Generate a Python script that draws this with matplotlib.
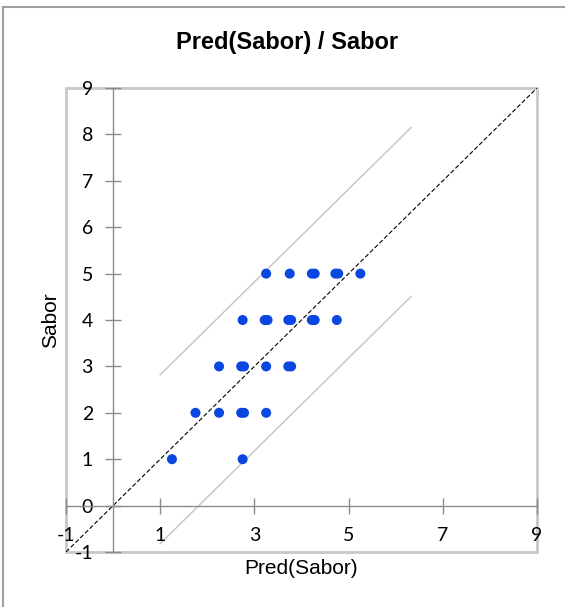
import numpy as np
import matplotlib
matplotlib.use('Agg')
import matplotlib.pyplot as plt
from matplotlib.patches import Rectangle
from matplotlib.lines import Line2D

# predicted vs observed taste scores
pred = [3.25, 3.75, 4.22, 4.28, 4.72, 4.78, 5.25,
        2.75, 3.22, 3.28, 3.72, 3.78, 4.22, 4.28, 4.75,
        2.25, 2.72, 2.78, 3.25, 3.72, 3.78,
        1.75, 2.25, 2.72, 2.78, 3.25,
        1.25, 2.75]
sabor = [5, 5, 5, 5, 5, 5, 5,
         4, 4, 4, 4, 4, 4, 4, 4,
         3, 3, 3, 3, 3, 3,
         2, 2, 2, 2, 2,
         1, 1]

# confidence band around the identity line
band_x = [1.0, 6.33]
band_offset = 1.82

xticks = [-1, 1, 3, 5, 7, 9]
yticks = list(range(-1, 10))

fig = plt.figure(figsize=(5.65, 6.07), dpi=100)
ax = fig.add_axes([0.1168, 0.0906, 0.8336, 0.7644])

ax.plot([-1, 9], [-1, 9], color='black', lw=0.8, ls=(0, (4, 2)), zorder=2)
bx = np.array(band_x)
ax.plot(bx, bx + band_offset, color='#c8c8c8', lw=1.1, zorder=1)
ax.plot(bx, bx - band_offset, color='#c8c8c8', lw=1.1, zorder=1)
ax.scatter(pred, sabor, s=52, color='#0a46e0', edgecolors='none', zorder=3)

ax.set_xlim(-1, 9)
ax.set_ylim(-1, 9)

for s in ['top', 'right']:
    ax.spines[s].set_visible(False)
for s in ['left', 'bottom']:
    ax.spines[s].set_position(('data', 0))
    ax.spines[s].set_color('#8c8c8c')
    ax.spines[s].set_linewidth(1.0)

ax.add_patch(Rectangle((0, 0), 1, 1, transform=ax.transAxes, fill=False,
                       edgecolor='#c8c8c8', lw=2, clip_on=False, zorder=0))

ax.set_xticks(xticks)
ax.set_yticks(yticks)
ax.set_xticklabels([str(t) for t in xticks])
ax.set_yticklabels([str(t) for t in yticks])
ax.tick_params(axis='both', direction='inout', length=11, width=1.0,
               color='#8c8c8c', labelsize=14)
ax.tick_params(axis='x', pad=10)
ax.tick_params(axis='y', pad=9)
for lab in ax.get_xticklabels() + ax.get_yticklabels():
    lab.set_family('Lato')

ax.set_xlabel('Pred(Sabor)', family='Liberation Sans', fontsize=15)
ax.xaxis.set_label_coords(0.5, -0.015)
ax.set_ylabel('Sabor', family='Liberation Sans', fontsize=15)
ax.yaxis.set_label_coords(-0.013, 0.5)

fig.text(0.508, 0.93, 'Pred(Sabor) / Sabor', ha='center', va='center',
         family='Liberation Sans', fontweight='bold', fontsize=17)

# outer chart border (top and left edges)
fig.add_artist(Line2D([0.006, 0.006], [0, 0.989], transform=fig.transFigure, color='#a0a0a0', lw=1.5))
fig.add_artist(Line2D([0.006, 1], [0.989, 0.989], transform=fig.transFigure, color='#a0a0a0', lw=1.5))

fig.savefig('out.png', dpi=100, facecolor='white')
